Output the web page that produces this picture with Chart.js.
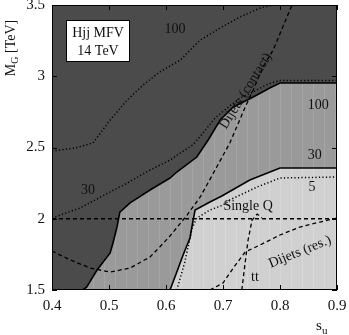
<!DOCTYPE html>
<html>
<head>
<meta charset="utf-8">
<script src="https://cdn.jsdelivr.net/npm/chart.js@4.4.1/dist/chart.umd.min.js"></script>
<style>
  body { margin: 0; background: #fff; }
</style>
</head>
<body>
<canvas id="boundsChart" width="349" height="335"></canvas>
<script>
// tick labels
const xTicks = ['0.4', '0.5', '0.6', '0.7', '0.8', '0.9'];
const yTicks = ['1.5', '2', '2.5', '3', '3.5'];

// upper solid boundary (dark / medium grey)
const upperX = [0.454, 0.461, 0.479, 0.502, 0.507, 0.514, 0.519, 0.537, 0.572, 0.607, 0.619, 0.654, 0.674, 0.695, 0.718, 0.753, 0.782, 0.800, 0.900];
const upperY = [1.500, 1.521, 1.640, 1.760, 1.830, 1.942, 2.047, 2.111, 2.202, 2.286, 2.328, 2.433, 2.553, 2.693, 2.784, 2.854, 2.918, 2.953, 2.953];

// lower solid boundary (medium / light grey)
const lowerX = [0.607, 0.619, 0.630, 0.642, 0.646, 0.651, 0.677, 0.698, 0.747, 0.800, 0.900];
const lowerY = [1.500, 1.626, 1.746, 1.865, 1.956, 2.061, 2.118, 2.160, 2.272, 2.356, 2.356];

// dotted contours
const c100X = [0.400, 0.440, 0.472, 0.502, 0.532, 0.560, 0.589, 0.625, 0.660, 0.695, 0.730, 0.765, 0.788, 0.900];
const c100Y = [2.475, 2.496, 2.532, 2.693, 2.833, 2.939, 3.030, 3.114, 3.254, 3.339, 3.416, 3.479, 3.500, 3.500];
const c30X = [0.400, 0.449, 0.502, 0.532, 0.572, 0.607, 0.625, 0.647, 0.665, 0.686, 0.707, 0.730, 0.756, 0.779, 0.800, 0.900];
const c30Y = [2.005, 2.075, 2.188, 2.251, 2.342, 2.412, 2.461, 2.518, 2.602, 2.707, 2.777, 2.847, 2.896, 2.946, 2.970, 2.970];
const c5X = [0.619, 0.633, 0.646, 0.654, 0.677, 0.700, 0.712, 0.760, 0.800, 0.900];
const c5Y = [1.500, 1.696, 1.935, 2.005, 2.061, 2.096, 2.132, 2.223, 2.286, 2.293];

// dashed search limits
const contactX = [0.400, 0.432, 0.467, 0.502, 0.537, 0.572, 0.589, 0.607, 0.637, 0.660, 0.689, 0.712, 0.739, 0.753, 0.770, 0.788, 0.821];
const contactY = [1.774, 1.711, 1.654, 1.626, 1.654, 1.732, 1.802, 1.879, 2.026, 2.153, 2.363, 2.532, 2.784, 2.904, 3.065, 3.184, 3.500];
const singleQX = [0.400, 0.900];
const singleQY = [2.000, 2.000];
const ttX = [0.733, 0.739, 0.744, 0.751, 0.760, 0.768];
const ttY = [1.500, 1.696, 1.851, 1.991, 2.033, 2.005];
const resX = [0.677, 0.700, 0.718, 0.739, 0.765, 0.800, 0.835, 0.870, 0.900];
const resY = [1.500, 1.549, 1.654, 1.767, 1.816, 1.886, 1.942, 1.977, 2.005];

// text placed on the plot (data coordinates, rotation in degrees)
const curveLabels = [
  { text: '100', x: 0.616, y: 3.332, angle: 0 },
  { text: '30', x: 0.463, y: 2.202, angle: 0 },
  { text: '100', x: 0.867, y: 2.798, angle: 0 },
  { text: '30', x: 0.861, y: 2.447, angle: 0 },
  { text: '5', x: 0.856, y: 2.223, angle: 0 },
  { text: 'Single Q', x: 0.744, y: 2.089, angle: 0 },
  { text: 'tt', x: 0.756, y: 1.591, angle: 0 },
  { text: 'Dijets (res.)', x: 0.835, y: 1.767, angle: -22 },
  { text: 'Dijets (contact)', x: 0.740, y: 2.896, angle: -58 }
];

const plotFont = '"Liberation Serif", "DejaVu Serif", serif';
const darkGrey = '#4b4b4b';

function pts(xs, ys) {
  return xs.map((x, i) => ({ x: x, y: ys[i] }));
}

// faint vertical stripes like the original rasterised fill
function stripes(base, line) {
  const c = document.createElement('canvas');
  c.width = 11;
  c.height = 4;
  const g = c.getContext('2d');
  g.fillStyle = base;
  g.fillRect(0, 0, 11, 4);
  g.fillStyle = line;
  g.fillRect(5, 0, 1, 4);
  return g.createPattern(c, 'repeat');
}

function lineSet(xs, ys, dash, width) {
  return {
    data: pts(xs, ys),
    showLine: true,
    fill: false,
    borderColor: '#000',
    borderWidth: width,
    borderDash: dash,
    pointRadius: 0,
    tension: 0,
    order: 1
  };
}

const dotted = [1.2, 2.3];
const dashed = [4, 3];

const frameAndLabels = {
  id: 'frameAndLabels',
  beforeDatasetsDraw(chart) {
    const { ctx, chartArea: a } = chart;
    ctx.save();
    ctx.fillStyle = darkGrey;
    ctx.fillRect(a.left, a.top, a.right - a.left, a.bottom - a.top);
    ctx.restore();
  },
  afterDatasetsDraw(chart) {
    const { ctx, chartArea: a } = chart;
    const xs = chart.scales.x;
    const ys = chart.scales.y;
    ctx.save();

    ctx.fillStyle = '#111';
    ctx.font = '14px ' + plotFont;
    ctx.textAlign = 'center';
    ctx.textBaseline = 'middle';
    curveLabels.forEach(l => {
      ctx.save();
      ctx.translate(xs.getPixelForValue(l.x), ys.getPixelForValue(l.y));
      ctx.rotate(l.angle * Math.PI / 180);
      ctx.fillText(l.text, 0, 0);
      ctx.restore();
    });

    // info box
    const bx = a.left + 14, by = a.top + 15;
    ctx.fillStyle = '#fff';
    ctx.fillRect(bx, by, 64, 42);
    ctx.strokeStyle = '#000';
    ctx.lineWidth = 1;
    ctx.strokeRect(bx + 0.5, by + 0.5, 63, 41);
    ctx.fillStyle = '#111';
    ctx.fillText('Hjj MFV', bx + 32, by + 13);
    ctx.fillText('14 TeV', bx + 32, by + 31);

    // frame
    ctx.strokeStyle = '#000';
    ctx.lineWidth = 1;
    ctx.strokeRect(a.left + 0.5, a.top + 0.5, a.right - a.left - 1, a.bottom - a.top - 1);

    // inward tick marks on all four sides
    const tl = 5;
    ctx.beginPath();
    xs.ticks.forEach(t => {
      const px = Math.round(xs.getPixelForValue(t.value)) + 0.5;
      ctx.moveTo(px, a.bottom); ctx.lineTo(px, a.bottom - tl);
      ctx.moveTo(px, a.top); ctx.lineTo(px, a.top + tl);
    });
    ys.ticks.forEach(t => {
      const py = Math.round(ys.getPixelForValue(t.value)) + 0.5;
      ctx.moveTo(a.left, py); ctx.lineTo(a.left + tl, py);
      ctx.moveTo(a.right, py); ctx.lineTo(a.right - tl, py);
    });
    ctx.stroke();

    // axis titles
    ctx.fillStyle = '#111';
    ctx.textAlign = 'left';
    ctx.textBaseline = 'alphabetic';
    ctx.save();
    ctx.translate(15, 48);
    ctx.rotate(-Math.PI / 2);
    ctx.font = '14px ' + plotFont;
    const wM = ctx.measureText('M').width;
    ctx.font = '10px ' + plotFont;
    const wG = ctx.measureText('G').width;
    ctx.font = '14px ' + plotFont;
    const wT = ctx.measureText(' [TeV]').width;
    let sx = -(wM + wG + wT) / 2;
    ctx.fillText('M', sx, 0);
    ctx.font = '10px ' + plotFont;
    ctx.fillText('G', sx + wM, 3);
    ctx.font = '14px ' + plotFont;
    ctx.fillText(' [TeV]', sx + wM + wG, 0);
    ctx.restore();

    ctx.font = '15px ' + plotFont;
    ctx.fillText('s', 316, 330);
    ctx.font = '11px ' + plotFont;
    ctx.fillText('u', 322, 334);

    ctx.restore();
  }
};

const ctx = document.getElementById('boundsChart').getContext('2d');

window.myChart = new Chart(ctx, {
  type: 'scatter',
  data: {
    datasets: [
      lineSet(c100X, c100Y, dotted, 1.5),
      lineSet(c30X, c30Y, dotted, 1.5),
      lineSet(c5X, c5Y, dotted, 1.5),
      lineSet(contactX, contactY, dashed, 1.3),
      lineSet(singleQX, singleQY, dashed, 1.3),
      lineSet(ttX, ttY, dashed, 1.3),
      lineSet(resX, resY, dashed, 1.3),
      {
        data: pts(lowerX, lowerY),
        showLine: true,
        fill: 'start',
        backgroundColor: stripes('#d0d0d0', '#d8d8d8'),
        borderColor: '#000',
        borderWidth: 1.6,
        pointRadius: 0,
        tension: 0,
        order: 5
      },
      {
        data: pts(upperX, upperY),
        showLine: true,
        fill: 'start',
        backgroundColor: stripes('#9a9a9a', '#a4a4a4'),
        borderColor: '#000',
        borderWidth: 1.6,
        pointRadius: 0,
        tension: 0,
        order: 6
      }
    ]
  },
  options: {
    responsive: false,
    animation: false,
    devicePixelRatio: 1,
    layout: { padding: { top: 5, right: 12, left: 0, bottom: 0 } },
    plugins: {
      legend: { display: false },
      tooltip: { enabled: false }
    },
    scales: {
      x: {
        type: 'linear',
        min: 0.4,
        max: 0.9,
        grid: { display: false, drawTicks: false },
        border: { display: false },
        afterBuildTicks: s => { s.ticks = xTicks.map(v => ({ value: parseFloat(v) })); },
        afterFit: s => { s.height = 45; s.paddingLeft = 0; s.paddingRight = 0; },
        ticks: {
          padding: 7,
          color: '#111',
          maxRotation: 0,
          font: { family: plotFont, size: 15 },
          callback: (v, i) => xTicks[i]
        }
      },
      y: {
        type: 'linear',
        min: 1.5,
        max: 3.5,
        grid: { display: false, drawTicks: false },
        border: { display: false },
        afterBuildTicks: s => { s.ticks = yTicks.map(v => ({ value: parseFloat(v) })); },
        afterFit: s => { s.width = 52; s.paddingTop = 0; s.paddingBottom = 0; },
        ticks: {
          padding: 7,
          color: '#111',
          font: { family: plotFont, size: 15 },
          callback: (v, i) => yTicks[i]
        }
      }
    }
  },
  plugins: [frameAndLabels]
});
</script>
</body>
</html>
